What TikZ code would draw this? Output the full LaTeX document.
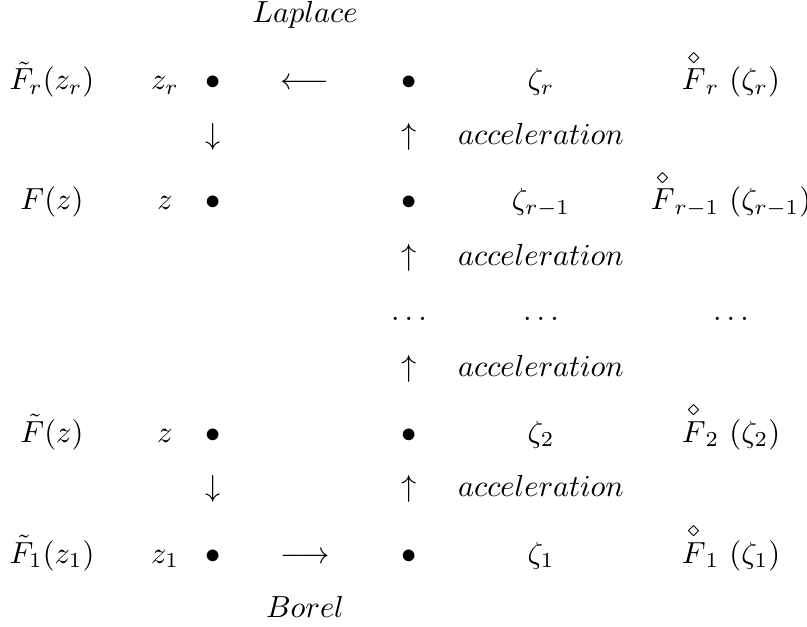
\documentclass[tikz,border=0pt]{standalone}
\usepackage{amsmath, amssymb}
\usepackage{tikz}

\tikzset{
  cell/.style={anchor=base, inner sep=0pt, outer sep=0pt},
}

\begin{document}
\begin{tikzpicture}[x=0.3279pt, y=-0.3279pt]
    \useasboundingbox (0,0) rectangle (807,627);

    % names of the two horizontal maps
    \node[cell] (laplace) at (305,23) {$Laplace$};
    \node[cell] (borel) at (305,617) {$Borel$};

    % row r
    \node[cell] (Fr) at (52,90) {$\tilde{F}_r(z_r)$};
    \node[cell] (zr) at (165,90) {$z_r$};
    \node[cell] (pr) at (213,90) {$\bullet$};
    \node[cell] (lap) at (305,90) {$\longleftarrow$};
    \node[cell] (qr) at (409,90) {$\bullet$};
    \node[cell] (zetar) at (541,90) {$\zeta_r$};
    \node[cell] (Gr) at (731,90) {$\overset{\diamond}{F}_r\ (\zeta_r)$};

    \node[cell] (downA) at (213,145) {$\downarrow$};

    % row of F(z)
    \node[cell] (F) at (52,210) {$F(z)$};
    \node[cell] (z) at (165,210) {$z$};
    \node[cell] (p) at (213,210) {$\bullet$};
    \node[cell] (qrm) at (409,210) {$\bullet$};
    \node[cell] (zetarm) at (541,210) {$\zeta_{r-1}$};
    \node[cell] (Grm) at (731,210) {$\overset{\diamond}{F}_{r-1}\ (\zeta_{r-1})$};

    % dots
    \node[cell] (dotsA) at (409,321) {$\ldots$};
    \node[cell] (dotsB) at (541,321) {$\ldots$};
    \node[cell] (dotsC) at (731,321) {$\ldots$};

    % row of tilde F(z)
    \node[cell] (Ft) at (52,442) {$\tilde{F}(z)$};
    \node[cell] (zt) at (165,442) {$z$};
    \node[cell] (pt) at (213,442) {$\bullet$};
    \node[cell] (q2) at (409,442) {$\bullet$};
    \node[cell] (zeta2) at (541,442) {$\zeta_2$};
    \node[cell] (G2) at (731,442) {$\overset{\diamond}{F}_2\ (\zeta_2)$};

    \node[cell] (downB) at (213,496) {$\downarrow$};

    % row 1
    \node[cell] (F1) at (52,563) {$\tilde{F}_1(z_1)$};
    \node[cell] (z1) at (165,563) {$z_1$};
    \node[cell] (p1) at (213,563) {$\bullet$};
    \node[cell] (bor) at (305,563) {$\longrightarrow$};
    \node[cell] (q1) at (409,563) {$\bullet$};
    \node[cell] (zeta1) at (541,563) {$\zeta_1$};
    \node[cell] (G1) at (731,563) {$\overset{\diamond}{F}_1\ (\zeta_1)$};

    % accelerations
    \foreach \y/\n in {145/a, 266/b, 376/c, 496/d} {
        \node[cell] (up\n) at (409,\y) {$\uparrow$};
        \node[cell] (acc\n) at (541,\y) {$acceleration$};
    }
\end{tikzpicture}
\end{document}
